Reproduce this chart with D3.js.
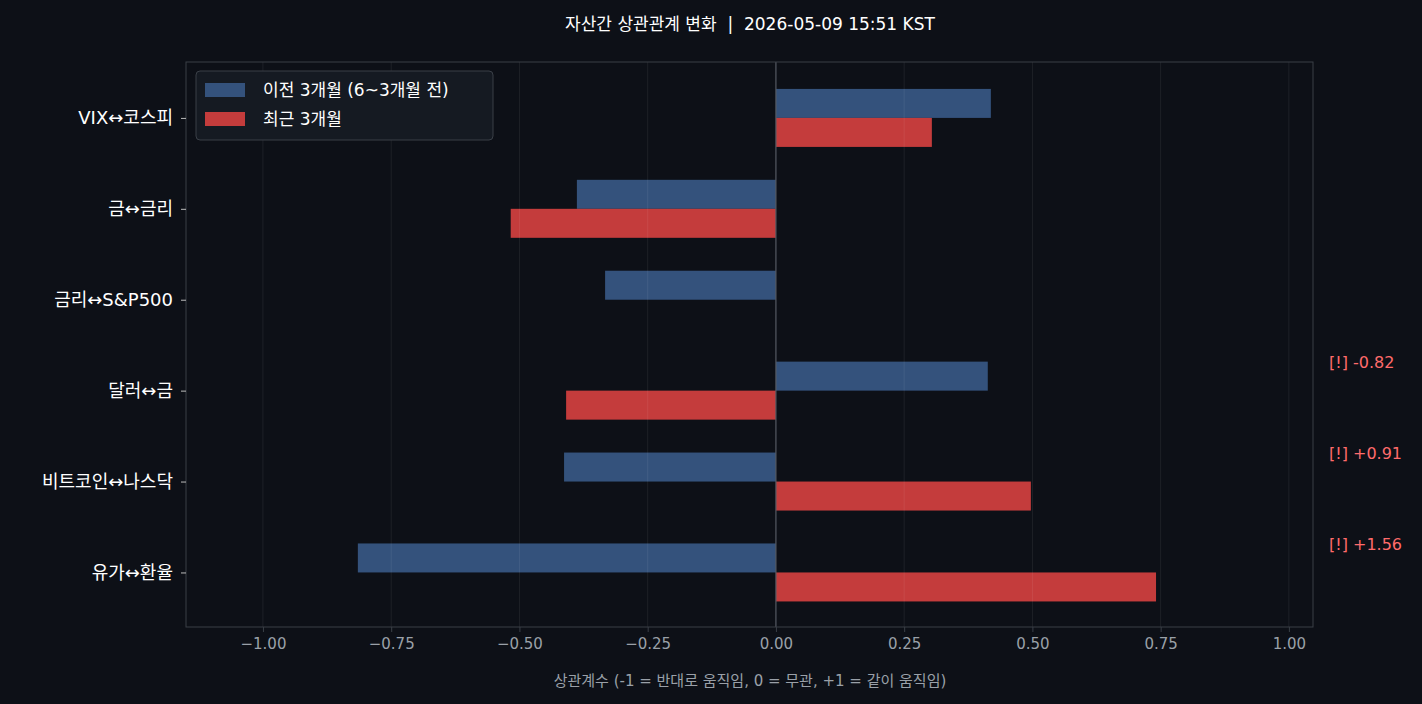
<!DOCTYPE html>
<html><head><meta charset="utf-8">
<script src="https://cdn.jsdelivr.net/npm/d3@7"></script>
<style>
body{margin:0;background:#0d1017;}
text{font-family:"DejaVu Sans","Noto Sans CJK KR",sans-serif;white-space:pre;}
</style></head>
<body><div id="wrapper"></div>
<script>
const pairs = ["VIX↔코스피", "금↔금리", "금리↔S&P500", "달러↔금", "비트코인↔나스닥", "유가↔환율"];
const prevCorr = [0.419, -0.388, -0.333, 0.413, -0.413, -0.815];
const recentCorr = [0.304, -0.517, null, -0.409, 0.497, 0.741];
const alerts = [null, null, null, "[!] -0.82", "[!] +0.91", "[!] +1.56"];
const xTicks = [-1, -0.75, -0.5, -0.25, 0, 0.25, 0.5, 0.75, 1];

const width = 1422, height = 704;
const m = {top: 62, left: 186, right: 109, bottom: 77};

const svg = d3.select("#wrapper").append("svg")
  .attr("width", width).attr("height", height);
svg.append("rect").attr("width", width).attr("height", height).attr("fill", "#0d1017");

const x = d3.scaleLinear().domain([-1.15, 1.047]).range([m.left, width - m.right]);
const y = d3.scaleLinear().domain([-0.615, 5.6]).range([m.top, height - m.bottom]);
const barH = 29;

// bars
svg.append("g").selectAll("rect").data(prevCorr).join("rect")
  .attr("x", d => x(Math.min(0, d))).attr("width", d => Math.abs(x(d) - x(0)))
  .attr("y", (d, i) => y(i) - barH).attr("height", barH)
  .attr("fill", "#34527c");
svg.append("g").selectAll("rect").data(recentCorr.map((v, i) => ({v, i})).filter(d => d.v !== null)).join("rect")
  .attr("x", d => x(Math.min(0, d.v))).attr("width", d => Math.abs(x(d.v) - x(0)))
  .attr("y", d => y(d.i)).attr("height", barH)
  .attr("fill", "#c43c3c");

// grid over bars (faint)
svg.append("g").selectAll("line").data(xTicks.filter(d => d !== 0)).join("line")
  .attr("x1", d => x(d)).attr("x2", d => x(d))
  .attr("y1", m.top).attr("y2", height - m.bottom)
  .attr("stroke", "#ffffff").attr("stroke-opacity", 0.07);

// zero line
svg.append("line").attr("x1", x(0)).attr("x2", x(0))
  .attr("y1", m.top).attr("y2", height - m.bottom)
  .attr("stroke", "#555a63").attr("stroke-width", 1.2);

// frame
svg.append("rect").attr("x", m.left).attr("y", m.top)
  .attr("width", width - m.right - m.left).attr("height", height - m.bottom - m.top)
  .attr("fill", "none").attr("stroke", "#3a3f47");

// axes
const xAxis = svg.append("g").attr("transform", `translate(0,${height - m.bottom})`)
  .call(d3.axisBottom(x).tickValues(xTicks).tickFormat(d => d3.format(".2f")(d).replace("-", "−")).tickSize(5).tickPadding(6));
xAxis.select(".domain").remove();
xAxis.selectAll("line").attr("stroke", "#3a3f47");
xAxis.selectAll("text").attr("fill", "#9aa0a8").attr("font-size", 15);

const yAxis = svg.append("g").attr("transform", `translate(${m.left},0)`)
  .call(d3.axisLeft(y).tickValues(d3.range(pairs.length)).tickFormat(i => pairs[i]).tickSize(5).tickPadding(8));
yAxis.select(".domain").remove();
yAxis.selectAll("line").attr("stroke", "#bbbbbb");
yAxis.selectAll("text").attr("fill", "#ffffff").attr("font-size", 18);

// alerts
svg.append("g").selectAll("text").data(alerts.map((a, i) => ({a, i})).filter(d => d.a)).join("text")
  .attr("x", 1329).attr("y", d => y(d.i) - 28).attr("dy", "0.35em")
  .attr("fill", "#ff6b6b").attr("font-size", 16).text(d => d.a);

// title & label
svg.append("text").attr("x", 750).attr("y", 30)
  .attr("text-anchor", "middle").attr("fill", "#ffffff").attr("font-size", 17)
  .text("자산간 상관관계 변화  |  2026-05-09 15:51 KST");
svg.append("text").attr("x", 750).attr("y", 686)
  .attr("text-anchor", "middle").attr("fill", "#9aa0a8").attr("font-size", 15)
  .text("상관계수 (-1 = 반대로 움직임, 0 = 무관, +1 = 같이 움직임)");

// legend
const lg = svg.append("g").attr("transform", "translate(196,71)");
lg.append("rect").attr("width", 297).attr("height", 69).attr("rx", 4)
  .attr("fill", "#151a22").attr("stroke", "#3a3f47");
const legendItems = [["이전 3개월 (6~3개월 전)", "#34527c"], ["최근 3개월", "#c43c3c"]];
legendItems.forEach(([label, c], i) => {
  lg.append("rect").attr("x", 9).attr("y", 12 + i * 29).attr("width", 40).attr("height", 14).attr("fill", c);
  lg.append("text").attr("x", 67).attr("y", 19 + i * 29).attr("dy", "0.35em")
    .attr("fill", "#ffffff").attr("font-size", 17).text(label);
});
</script></body></html>
